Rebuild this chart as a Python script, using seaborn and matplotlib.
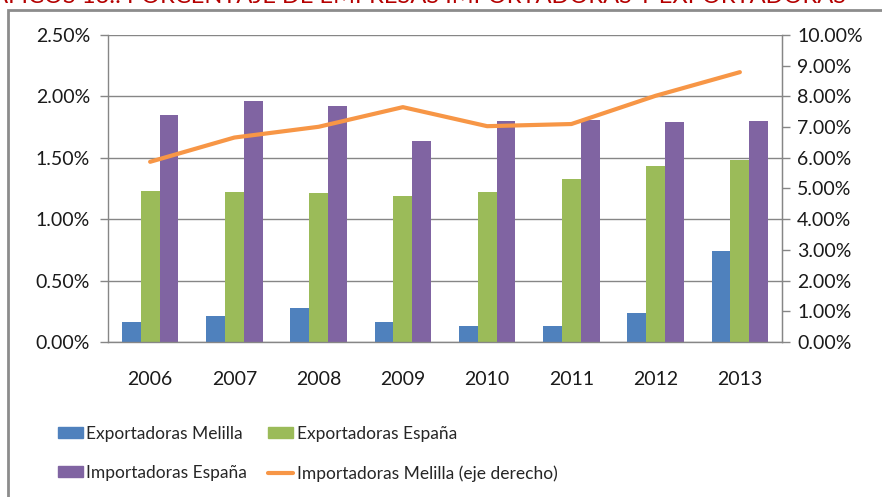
import matplotlib.pyplot as plt
import matplotlib.patches as mpatches
import matplotlib.lines as mlines
from matplotlib.ticker import PercentFormatter
import seaborn as sns
import numpy as np
import pandas as pd

# data (percent)
years = ['2006', '2007', '2008', '2009', '2010', '2011', '2012', '2013']
exp_melilla = [0.16, 0.21, 0.28, 0.16, 0.13, 0.13, 0.24, 0.74]
exp_espana = [1.23, 1.22, 1.21, 1.19, 1.22, 1.33, 1.43, 1.48]
imp_espana = [1.85, 1.96, 1.92, 1.64, 1.80, 1.81, 1.79, 1.80]
imp_melilla = [5.87, 6.66, 7.01, 7.65, 7.03, 7.10, 8.02, 8.79]  # right axis

series_names = ['Exportadoras Melilla', 'Exportadoras España', 'Importadoras España']
line_name = 'Importadoras Melilla (eje derecho)'
colors = {'Exportadoras Melilla': '#4F81BD',
          'Exportadoras España': '#9BBB59',
          'Importadoras España': '#8064A2'}
line_color = '#F79646'

df = pd.DataFrame({
    'year': years * 3,
    'serie': np.repeat(series_names, len(years)),
    'value': exp_melilla + exp_espana + imp_espana,
})

sns.set_style('white')
plt.rcParams['font.family'] = ['Lato', 'DejaVu Sans']

fig = plt.figure(figsize=(8.82, 4.97), dpi=100)
ax = fig.add_axes([108 / 882, 1 - 342 / 497, (782 - 108) / 882, (342 - 35) / 497])

sns.barplot(data=df, x='year', y='value', hue='serie', palette=colors,
            width=0.67, gap=0, ax=ax, legend=False, saturation=1)
for p in ax.patches:
    p.set_edgecolor('none')

ax.set_xlim(-0.5, len(years) - 0.5)
ax.set_ylim(0, 2.5)
ax.set_yticks(np.arange(0, 2.51, 0.5))
ax.yaxis.set_major_formatter(PercentFormatter(decimals=2))
ax.set_xlabel('')
ax.set_ylabel('')
ax.yaxis.grid(True, color='#868686', linewidth=1)
ax.set_axisbelow(True)
ax.set_xticks(np.arange(len(years)))
ax.set_xticklabels(years)
ax.set_xticks(np.arange(-0.5, len(years)), minor=True)
ax.tick_params(axis='x', which='major', length=0, pad=21, labelsize=14, colors='#1a1a1a')
ax.tick_params(axis='x', which='minor', length=6, color='#868686', width=1, direction='out')
ax.tick_params(axis='y', length=6, color='#868686', width=1, direction='out',
               labelsize=14, labelcolor='#1a1a1a', pad=7)
ax.spines['top'].set_visible(False)
for s in ['left', 'right', 'bottom']:
    ax.spines[s].set_color('#868686')
    ax.spines[s].set_linewidth(1)

ax2 = ax.twinx()
sns.lineplot(x=np.arange(len(years)), y=imp_melilla, color=line_color,
             linewidth=3, ax=ax2)
ax2.set_ylim(0, 10)
ax2.set_yticks(np.arange(0, 10.01, 1))
ax2.yaxis.set_major_formatter(PercentFormatter(decimals=2))
ax2.tick_params(axis='y', length=6, color='#868686', width=1, direction='out',
                labelsize=14, labelcolor='#1a1a1a', pad=5)
for s in ['top', 'left', 'bottom']:
    ax2.spines[s].set_visible(False)
ax2.spines['right'].set_color('#868686')

# legend (row-major order with ncol=2)
h_em = mpatches.Patch(color=colors['Exportadoras Melilla'], label='Exportadoras Melilla')
h_ee = mpatches.Patch(color=colors['Exportadoras España'], label='Exportadoras España')
h_ie = mpatches.Patch(color=colors['Importadoras España'], label='Importadoras España')
h_im = mlines.Line2D([], [], color=line_color, linewidth=3, label=line_name)
fig.legend(handles=[h_em, h_ie, h_ee, h_im], ncol=2, frameon=False,
           loc='upper left', bbox_to_anchor=(42 / 882, 1 - 410 / 497),
           fontsize=12.5, handlelength=1.45, handleheight=0.6, handletextpad=0.2,
           columnspacing=1.2, labelspacing=1.35)

# outer frame of the original chart
frame = mpatches.Rectangle((8 / 882, -0.1), 1.2, 1.1 - 10 / 497,
                           transform=fig.transFigure, fill=False,
                           edgecolor='#8c8c8c', linewidth=2, clip_on=False)
fig.add_artist(frame)

# title cut off at the top edge
fig.text(-40 / 882, 1 - 3 / 497,
         'GRÁFICOS 13.: PORCENTAJE DE EMPRESAS IMPORTADORAS Y EXPORTADORAS',
         color='#B40000', fontsize=17, va='baseline', ha='left')

fig.savefig('out.png', dpi=100)
